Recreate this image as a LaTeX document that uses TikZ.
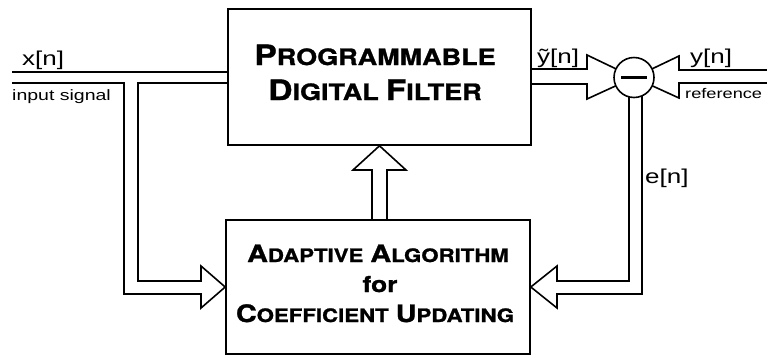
\documentclass[tikz,border=0pt]{standalone}
\usepackage{fontspec}
\setmainfont{Liberation Sans}
\newfontfamily\labelfont[FakeStretch=1.3]{Liberation Sans}
\newfontfamily\boxfont[FakeStretch=1.2,FakeBold=1.2]{TeX Gyre Heros}
\usetikzlibrary{calc,backgrounds}
% hand-made small capitals: #1 big size, #2 small size, #3 initial, #4 rest
\newcommand\capsmall[4]{{\fontsize{#1}{#1}\selectfont #3}{\fontsize{#2}{#2}\selectfont #4}}
\newcommand\wordgap{\hspace{7pt}}
\begin{document}
\begin{tikzpicture}[x=1pt,y=-1pt,line join=miter,
  wire/.style={line width=1.6pt},
  blockbox/.style={draw,wire,rectangle,inner sep=0pt},
  boxtext/.style={anchor=base,inner sep=0pt,font=\boxfont\bfseries},
  sig/.style={anchor=base west,inner sep=0pt,font=\labelfont\fontsize{20}{20}\selectfont},
  sigsmall/.style={anchor=base west,inner sep=0pt,font=\labelfont\fontsize{15}{15}\selectfont}]
\useasboundingbox (0,0) rectangle (767,357);

% blocks
\node[blockbox,minimum width=303pt,minimum height=136pt] (filter) at (379.5,77) {};
\node[blockbox,minimum width=304pt,minimum height=134pt] (adapt) at (378,287) {};
\node[draw,wire,circle,minimum size=40pt,inner sep=0pt,fill=white] (sum) at (634,77.5) {};
\draw[line width=3pt] ($(sum.center)+(-13,0)$) -- ($(sum.center)+(13,0)$);

% block texts
\node[boxtext] (f1) at (375,65) {\capsmall{28}{22.5}{P}{ROGRAMMABLE}};
\node[boxtext] (f2) at (375,100) {\capsmall{28}{22.5}{D}{IGITAL}\wordgap\capsmall{28}{22.5}{F}{ILTER}};
\node[boxtext] (a1) at (378,262) {\capsmall{24}{18.5}{A}{DAPTIVE}\wordgap\capsmall{24}{18.5}{A}{LGORITHM}};
\node[boxtext] (a2) at (380,292) {\fontsize{22}{22}\selectfont for};
\node[boxtext] (a3) at (375,322) {\capsmall{24}{18.5}{C}{OEFFICIENT}\wordgap\capsmall{24}{18.5}{U}{PDATING}};

% signal labels
\node[sig] (xlab) at (22,65) {x[n]};
\node[sigsmall] (inlab) at (12,100) {input signal};
\node[sig] (yhlab) at (537,63) {ỹ[n]};
\node[sig] (ylab) at (690,63) {y[n]};
\node[sigsmall,font=\labelfont\fontsize{14}{14}\selectfont] (reflab) at (685,98) {reference};
\node[sig] (elab) at (645,183) {e[n]};

% input line and its branch to the adaptive block
\coordinate (xhi) at (12,72);
\coordinate (xlo) at (12,83);
\draw[wire] (xhi) -- (filter.west |- xhi);
\draw[wire] (xlo) -- (124,83) -- (124,294) -- (201,294) -- (201,308) -- (adapt.west)
  -- (201,266) -- (201,281) -- (138,281) -- (138,83) -- (filter.west |- xlo);

% coefficient update arrow
\draw[wire] (372,220) -- (372,170) -- (353,170) -- (filter.south) -- (406,170) -- (387,170) -- (387,220);

\begin{scope}[on background layer]
% filter output into the summing junction
\draw[wire] (filter.east |- 0,69) -- (587,69) -- (587,55) -- (sum.center) -- (587,99) -- (587,84) -- (filter.east |- 0,84);
% desired signal into the summing junction
\draw[wire] (767,70) -- (679,70) -- (679,56) -- (sum.center) -- (679,98) -- (679,83) -- (767,83);
% error signal back to the adaptive block
\draw[wire] ($(sum.center)+(-5,0)$) -- (629,281) -- (557,281) -- (557,266) -- (adapt.east)
  -- (557,308) -- (557,294) -- (642,294) -- ($(sum.center)+(8,0)$);
\end{scope}
\end{tikzpicture}
\end{document}
